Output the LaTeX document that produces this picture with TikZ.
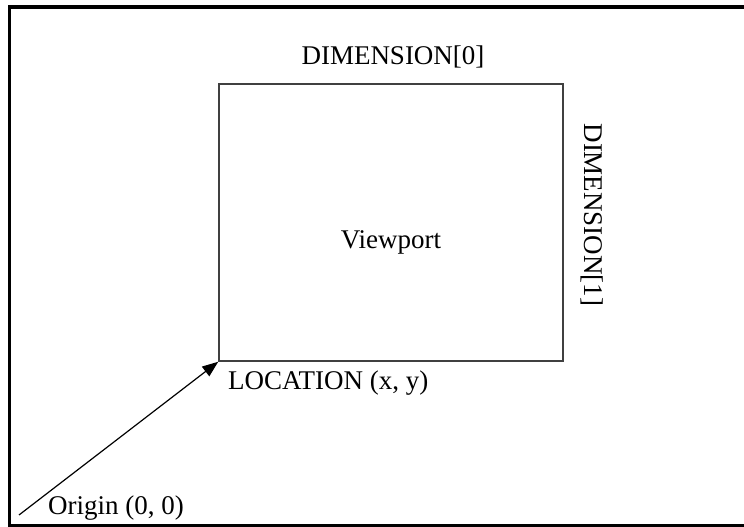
\documentclass[tikz,border=0pt]{standalone}
\usepackage{fontspec}
\setmainfont{Liberation Serif}
\usetikzlibrary{arrows.meta}

\begin{document}
\begin{tikzpicture}[x=1pt, y=1pt,
  txt/.style={inner sep=0pt, font=\fontsize{27}{32}\selectfont},
  viewbox/.style={draw=black!75, line width=1.5pt, minimum width=344pt, minimum height=277pt, inner sep=0pt}]

  \useasboundingbox (0,0) rectangle (744,527);

  \draw[line width=3.5pt] (760,520) -- (9.5,520) -- (9.5,1.5) -- (760,1.5);

  \node[viewbox] (view) at (391,304.5) {};
  \node[txt] (viewlbl) at (391,285) {Viewport};

  \node[txt] (dim0) at (393,470) {DIMENSION[0]};
  \node[txt, rotate=-90] (dim1) at (592,312) {DIMENSION[1]};

  \node[txt, anchor=west] (loc) at (228,144) {LOCATION (x, y)};
  \node[txt, anchor=west] (orig) at (48,19) {Origin (0, 0)};

  \coordinate (start) at (19,12);
  \draw[-{Triangle[length=16pt, width=12pt]}, line width=1.2pt] (start) -- (view.south west);

\end{tikzpicture}
\end{document}
